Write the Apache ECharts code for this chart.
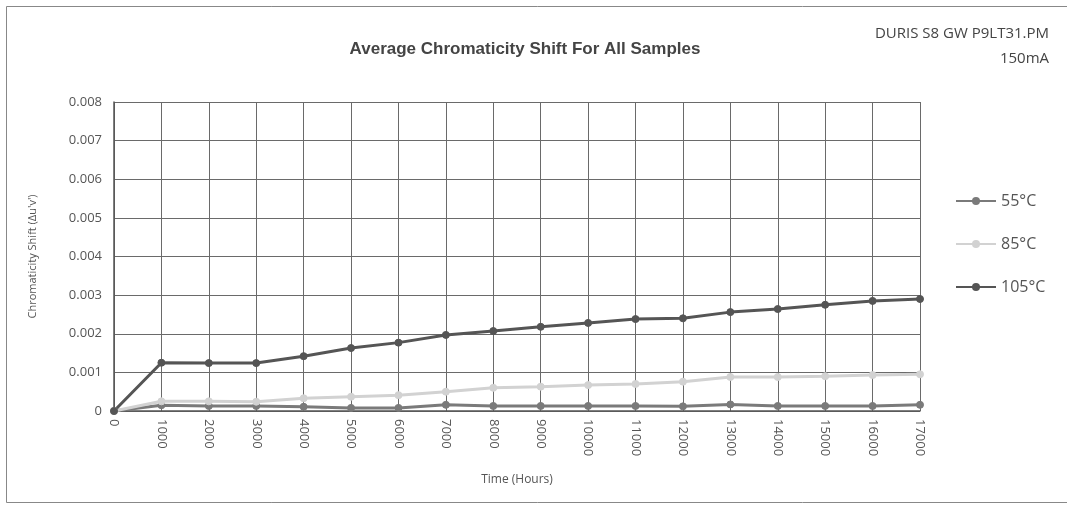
<!DOCTYPE html>
<html><head><meta charset="utf-8">
<script src="https://cdn.jsdelivr.net/npm/echarts@6/dist/echarts.min.js"></script>
<style>html,body{margin:0;padding:0;background:#fff}#c{width:1067px;height:506px}</style>
</head><body><div id="c"></div>
<script>
const hours = ['0','1000','2000','3000','4000','5000','6000','7000','8000','9000','10000','11000','12000','13000','14000','15000','16000','17000'];
const s55  = [0, 0.00015, 0.00013, 0.00013, 0.00011, 0.00008, 0.00008, 0.00016, 0.00013, 0.00013, 0.00013, 0.00013, 0.00012, 0.00017, 0.00013, 0.00013, 0.00013, 0.00016];
const s85  = [0, 0.00025, 0.00025, 0.00024, 0.00033, 0.00037, 0.00041, 0.0005, 0.0006, 0.00063, 0.00067, 0.0007, 0.00076, 0.00088, 0.00088, 0.0009, 0.00093, 0.00095];
const s105 = [0, 0.00125, 0.00124, 0.00124, 0.00142, 0.00163, 0.00177, 0.00197, 0.00207, 0.00218, 0.00228, 0.00238, 0.0024, 0.00256, 0.00264, 0.00275, 0.00285, 0.0029];
const seriesNames = ['55°C','85°C','105°C'];
const colors = ['#7a7a7a','#d2d2d2','#555555'];

const chart = echarts.init(document.getElementById('c'), null, {renderer:'canvas'});
const mk = (name, data, color) => ({
  name, type:'line', data, symbol:'circle', symbolSize:7,
  lineStyle:{color, width:3}, itemStyle:{color, borderColor:color},
  emphasis:{disabled:true}
});
chart.setOption({
  backgroundColor:'#fff',
  animation:false,
  title:{text:'Average Chromaticity Shift For All Samples', left:520, top:36, textAlign:'center',
    textStyle:{fontFamily:'Liberation Sans, Arial', fontSize:17, fontWeight:'bold', color:'#444'}},
  graphic:[
    {type:'rect', shape:{x:6.5,y:6.5,width:1070,height:496}, style:{fill:'none', stroke:'#888', lineWidth:1}},
    {type:'text', right:18, top:26, style:{text:'DURIS S8 GW P9LT31.PM', font:'15px "Open Sans", sans-serif', fill:'#444', align:'right'}},
    {type:'text', right:18, top:51, style:{text:'150mA', font:'15px "Open Sans", sans-serif', fill:'#444', align:'right'}}
  ],
  legend:{orient:'vertical', left:950, top:188, itemGap:27, itemWidth:40, itemHeight:10,
    textStyle:{fontFamily:'"Open Sans", sans-serif', fontSize:16, color:'#555'},
    data:seriesNames},
  grid:{left:114, right:147, top:102, bottom:95},
  xAxis:{type:'category', data:hours, boundaryGap:false,
    name:'Time (Hours)', nameLocation:'middle', nameGap:63,
    nameTextStyle:{fontFamily:'"Open Sans", sans-serif', fontSize:12, color:'#555'},
    axisLine:{lineStyle:{color:'#555', width:1.5}},
    axisTick:{show:false},
    axisLabel:{rotate:-90, margin:8, fontFamily:'"Open Sans", sans-serif', fontSize:13, color:'#555', interval:0},
    splitLine:{show:true, lineStyle:{color:'#6a6a6a', width:1}}},
  yAxis:{type:'value', min:0, max:0.008, interval:0.001,
    name:"Chromaticity Shift (Δu'v')", nameLocation:'middle', nameGap:76,
    nameTextStyle:{fontFamily:'"Open Sans", sans-serif', fontSize:11, color:'#555'},
    axisLine:{show:true, lineStyle:{color:'#555', width:1.5}},
    axisTick:{show:false},
    axisLabel:{margin:12, fontFamily:'"Open Sans", sans-serif', fontSize:13, color:'#555',
      formatter:v=> v===0 ? '0' : v.toFixed(3)},
    splitLine:{show:true, lineStyle:{color:'#6a6a6a', width:1}}},
  series:[mk(seriesNames[0], s55, colors[0]), mk(seriesNames[1], s85, colors[1]), mk(seriesNames[2], s105, colors[2])]
});
</script></body></html>
